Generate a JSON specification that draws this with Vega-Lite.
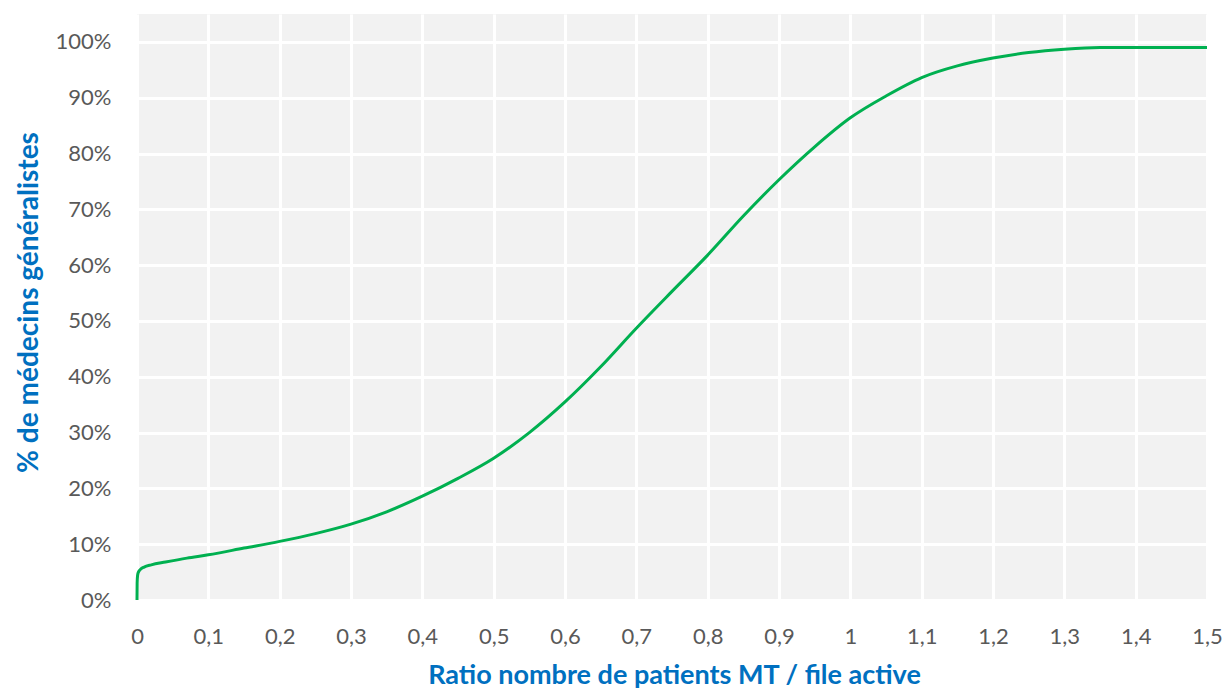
{
  "$schema": "https://vega.github.io/schema/vega-lite/v6.json",
  "width": 1070,
  "height": 586,
  "autosize": {"type": "none"},
  "padding": {"left": 137, "top": 14, "right": 21, "bottom": 91},
  "background": "white",
  "config": {
    "view": {"fill": "#f2f2f2", "stroke": null},
    "axis": {
      "domain": false,
      "ticks": false,
      "tickSize": 0,
      "gridColor": "white",
      "gridWidth": 3,
      "gridOpacity": 1,
      "labelFont": "Lato",
      "labelFontSize": 22,
      "labelColor": "#595959",
      "labelFlush": false,
      "titleFont": "Lato",
      "titleFontSize": 27,
      "titleFontWeight": "bold",
      "titleColor": "#0070C0"
    }
  },
  "data": {
    "values": [
      {"ratio": 0, "pct": 0},
      {"ratio": 0.0002, "pct": 0.03},
      {"ratio": 0.0008, "pct": 0.044},
      {"ratio": 0.002, "pct": 0.05},
      {"ratio": 0.005, "pct": 0.055},
      {"ratio": 0.01, "pct": 0.059},
      {"ratio": 0.02, "pct": 0.063},
      {"ratio": 0.04, "pct": 0.068},
      {"ratio": 0.07, "pct": 0.075},
      {"ratio": 0.1, "pct": 0.081},
      {"ratio": 0.15, "pct": 0.093},
      {"ratio": 0.2, "pct": 0.105},
      {"ratio": 0.25, "pct": 0.119},
      {"ratio": 0.3, "pct": 0.136},
      {"ratio": 0.35, "pct": 0.158},
      {"ratio": 0.4, "pct": 0.186},
      {"ratio": 0.45, "pct": 0.218},
      {"ratio": 0.5, "pct": 0.254},
      {"ratio": 0.55, "pct": 0.3},
      {"ratio": 0.6, "pct": 0.355},
      {"ratio": 0.65, "pct": 0.418},
      {"ratio": 0.7, "pct": 0.487},
      {"ratio": 0.75, "pct": 0.553},
      {"ratio": 0.8, "pct": 0.618},
      {"ratio": 0.85, "pct": 0.688},
      {"ratio": 0.9, "pct": 0.753},
      {"ratio": 0.95, "pct": 0.812},
      {"ratio": 1.0, "pct": 0.864},
      {"ratio": 1.05, "pct": 0.903},
      {"ratio": 1.1, "pct": 0.936},
      {"ratio": 1.15, "pct": 0.957},
      {"ratio": 1.2, "pct": 0.971},
      {"ratio": 1.25, "pct": 0.981},
      {"ratio": 1.3, "pct": 0.987},
      {"ratio": 1.35, "pct": 0.99},
      {"ratio": 1.4, "pct": 0.99},
      {"ratio": 1.5, "pct": 0.99}
    ]
  },
  "mark": {"type": "line", "color": "#00B050", "strokeWidth": 3, "clip": false, "interpolate": "monotone"},
  "encoding": {
    "x": {
      "field": "ratio",
      "type": "quantitative",
      "scale": {"domain": [0, 1.5], "nice": false, "zero": false},
      "axis": {
        "values": [0, 0.1, 0.2, 0.3, 0.4, 0.5, 0.6, 0.7, 0.8, 0.9, 1, 1.1, 1.2, 1.3, 1.4, 1.5],
        "labelExpr": "replace(format(datum.value, '~g'), '.', ',')",
        "labelPadding": 26,
        "title": "Ratio nombre de patients MT / file active",
        "titleX": 537,
        "titleY": 83,
        "titleBaseline": "alphabetic",
        "titleAnchor": "middle"
      }
    },
    "y": {
      "field": "pct",
      "type": "quantitative",
      "scale": {"domain": [0, 1.05], "nice": false},
      "axis": {
        "values": [0, 0.1, 0.2, 0.3, 0.4, 0.5, 0.6, 0.7, 0.8, 0.9, 1],
        "format": ".0%",
        "labelPadding": 26,
        "title": "% de médecins généralistes",
        "titleFontSize": 28,
        "titleX": -100,
        "titleY": 288,
        "titleBaseline": "alphabetic",
        "titleAnchor": "middle"
      }
    }
  }
}
